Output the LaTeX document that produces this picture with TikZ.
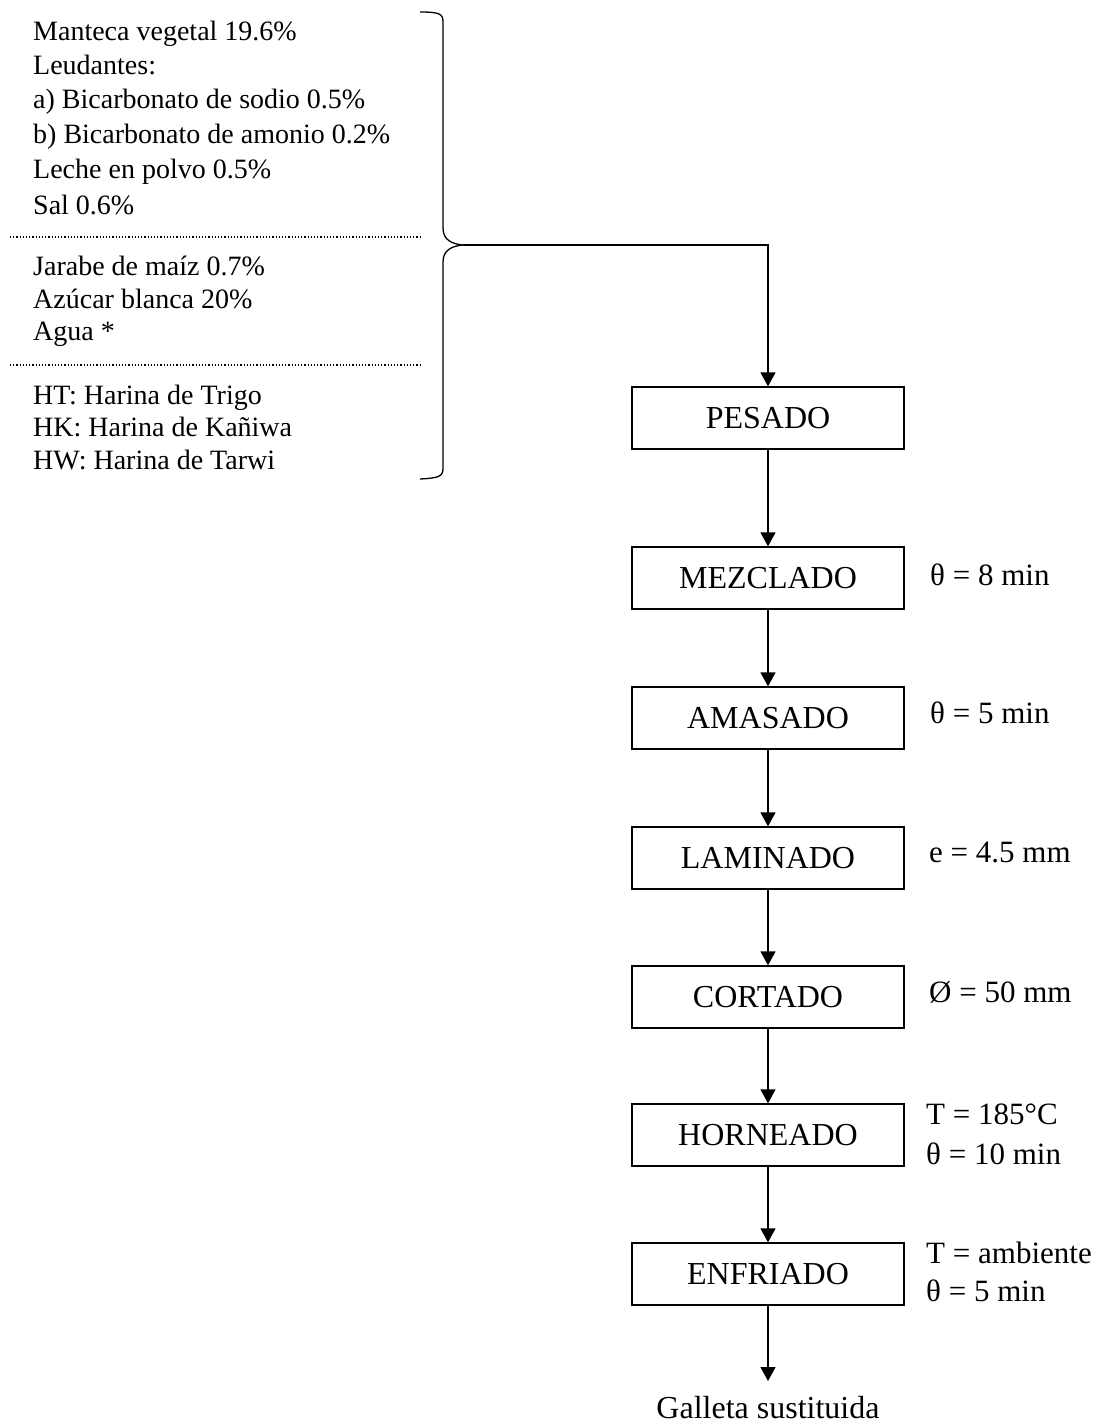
\documentclass[tikz,border=0pt]{standalone}
\usepackage{fontspec}
\setmainfont{Liberation Serif}
\usetikzlibrary{arrows.meta}
\begin{document}
\begin{tikzpicture}[x=1pt,y=-1pt,
  every node/.style={inner sep=0pt},
  procbox/.style={draw, line width=1.3pt, minimum width=272pt, minimum height=62pt, font=\fontsize{32}{38}\selectfont},
  ing/.style={anchor=west, font=\fontsize{28}{34}\selectfont, text height=19pt, text depth=6pt},
  cond/.style={anchor=west, font=\fontsize{31}{37}\selectfont, text height=21pt, text depth=7pt},
  conn/.style={line width=1.3pt, -{Triangle[width=15pt,length=14pt]}},
  dotline/.style={line width=1.2pt, dotted}]
\useasboundingbox (0,0) rectangle (1096,1426);

% ingredient lines
\node[ing] (i1) at (33,34) {Manteca vegetal 19.6\%};
\node[ing] (i2) at (33,68) {Leudantes:};
\node[ing] (i3) at (33,102) {a) Bicarbonato de sodio 0.5\%};
\node[ing] (i4) at (33,137) {b) Bicarbonato de amonio 0.2\%};
\node[ing] (i5) at (33,172) {Leche en polvo 0.5\%};
\node[ing] (i6) at (33,208) {Sal 0.6\%};
\node[ing] (j1) at (33,269) {Jarabe de maíz 0.7\%};
\node[ing] (j2) at (33,302) {Azúcar blanca 20\%};
\node[ing] (j3) at (33,334) {Agua *};
\node[ing] (k1) at (33,398) {HT: Harina de Trigo};
\node[ing] (k2) at (33,430) {HK: Harina de Kañiwa};
\node[ing] (k3) at (33,463) {HW: Harina de Tarwi};

\coordinate (d1a) at (10,237);
\coordinate (d1b) at (420,237);
\coordinate (d2a) at (10,365);
\coordinate (d2b) at (420,365);
\draw[dotline] (d1a) -- (d1b);
\draw[dotline] (d2a) -- (d2b);

% brace
\coordinate (btip) at (463,245);
\draw[line width=1.3pt] (420,12) .. controls (440,12) and (443,14) .. (443,22)
  -- (443,228) .. controls (443,240) and (452,244) .. (btip)
  .. controls (452,246) and (443,250) .. (443,262)
  -- (443,468) .. controls (443,476) and (440,478) .. (420,479);
\draw[line width=1.6pt] (btip) -- (495,245);

% process boxes
\node[procbox] (pes) at (768,418) {PESADO};
\node[procbox] (mez) at (768,578) {MEZCLADO};
\node[procbox] (ama) at (768,718) {AMASADO};
\node[procbox] (lam) at (768,858) {LAMINADO};
\node[procbox] (cor) at (768,997) {CORTADO};
\node[procbox] (hor) at (768,1135) {HORNEADO};
\node[procbox] (enf) at (768,1274) {ENFRIADO};
\node[font=\fontsize{32}{38}\selectfont] (gal) at (768,1408) {Galleta sustituida};

% conditions
\node[cond] (c1) at (930,578) {θ = 8 min};
\node[cond] (c2) at (930,716) {θ = 5 min};
\node[cond] (c3) at (929,855) {e = 4.5 mm};
\node[cond] (c4) at (929,995) {Ø = 50 mm};
\node[cond] (c5a) at (926,1117) {T = 185°C};
\node[cond] (c5b) at (926,1157) {θ = 10 min};
\node[cond] (c6a) at (926,1256) {T = ambiente};
\node[cond] (c6b) at (926,1294) {θ = 5 min};

% connectors
\draw[conn] (btip) -| (pes.north);
\draw[conn] (pes) -- (mez);
\draw[conn] (mez) -- (ama);
\draw[conn] (ama) -- (lam);
\draw[conn] (lam) -- (cor);
\draw[conn] (cor) -- (hor);
\draw[conn] (hor) -- (enf);
\coordinate (gtop) at (768,1381);
\draw[conn] (enf) -- (gtop);
\end{tikzpicture}
\end{document}
